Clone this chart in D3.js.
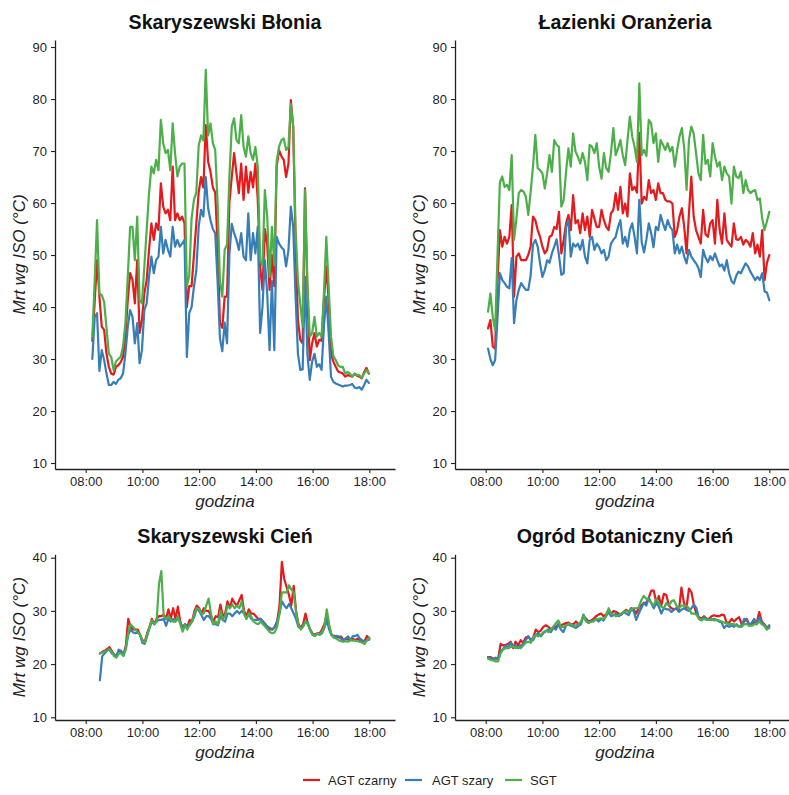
<!DOCTYPE html>
<html><head><meta charset="utf-8">
<script src="https://cdn.jsdelivr.net/npm/d3@7"></script>
<style>
body{margin:0;background:#fff}
svg{display:block;font-family:"Liberation Sans",Arial,Helvetica,sans-serif}
</style>
</head><body>
<svg id="chart" width="789" height="795"></svg>
<script>
// ---------- DATA ----------
const seriesNames = ["AGT czarny", "AGT szary", "SGT"];
const seriesColors = ["#E41A1C", "#377EB8", "#4DAF4A"];
const panelTitles = ["Skaryszewski Błonia", "Łazienki Oranżeria", "Skaryszewski Cień", "Ogród Botaniczny Cień"];
const xTickHours = [8, 10, 12, 14, 16, 18];
const xTickLabels = ["08:00", "10:00", "12:00", "14:00", "16:00", "18:00"];
const yTicksTop = [10, 20, 30, 40, 50, 60, 70, 80, 90];
const yTicksBottom = [10, 20, 30, 40];
const xTitle = "godzina";
const yTitle = "Mrt wg ISO (°C)";

// Skaryszewski Błonia (samples every 5 min, 08:14 - 17:59)
const blonieStart = "08:14", blonieEnd = "17:59";
const blonieCzarny = [33.5,41,49,42,36.2,35.6,31,28.5,27.2,27,28.5,28.8,29.4,30.4,34.3,41.3,46.5,45.2,40.7,49,35,37.5,42.6,45.2,51,56.1,52.9,56.1,54.8,63.8,59.3,58,58.7,56.7,67,56.7,58,56.7,57.4,56.1,40,44,44,50,56,62,65,63,75,68,66,63,62,52,37,36,42,42,60,65,69.6,65.7,61.9,67.6,60.6,67,62,66,63,67.6,60.6,47.8,43.3,55,52,43.3,50,44,67,70.2,69,68.3,65,67.6,79.8,74.7,52,37.5,33.7,33,62.8,42.6,29.8,33,35,32.4,33.7,33.5,41.3,47.8,41.3,31,29.5,28.5,27.6,27.4,27.2,26.6,26.9,26.8,26.6,27.2,26.8,26.6,26.3,27.5,28.3,27.2];
const blonieSzary = [30,38,38.8,27.7,31.7,29.8,27.2,25,25,25.6,25.2,26,26.3,27.2,31.1,36.2,39.4,38.1,33,36.9,29.2,31.7,39.4,40.7,45.8,49.7,46.5,49,49.7,55.4,50.3,52.9,51,49.7,55.4,51.6,52.9,51.6,52.2,52.9,30.4,38.8,40,43.9,47,55.4,58.7,57.4,65,59,56.7,55,54.2,45,34,31.5,37,33,50,56,54.2,52.9,51,54.2,49.7,49,58,49,54.2,50.3,55.4,35,40,49,42.6,31.7,45,31.7,53.5,52.2,51.5,51,47.8,51,59.3,55.4,42,31,27.9,28,45.8,31,26,29.5,31,28.5,29,27.9,36.2,42,35,26.6,25.6,25.3,25.1,24.9,24.7,24.9,24.9,25,25.2,24.5,24.4,24.6,24.1,25,26,25.4];
const blonieSGT = [34.3,45,56.7,42.6,42.3,41,36,31,30.4,27.9,29.5,30,30.4,32.4,36.9,45.8,55.4,55.4,49,57.4,41.3,40.7,47.7,54.8,61.9,67,65.7,68.3,66.3,76,71.5,69.6,70.2,66.3,75.3,69.6,65.1,67,67.6,67.6,44,46,57,60.6,62,71,73,72,85.6,73,75.3,71.5,70.2,60,45,42,51,52,65,74.7,76.3,72.1,71.5,76.9,70.8,68.9,72.8,69.6,68.3,70.8,67,49,48,62.5,57.4,45.8,55.4,48,68,70.8,72.1,72.4,70.2,70.8,79,74.7,55,45,40.6,36.2,62.5,45,34.3,35,38.1,34.3,35,34.3,42.6,53.5,44,34.3,30.5,29.8,28.8,28.5,28.5,27.2,27.5,27.2,26.6,27.2,26.9,26.9,26.3,27.2,27.9,27.2];

// Łazienki Oranżeria (08:05 - 18:00)
const lazienkiStart = "08:05", lazienkiEnd = "18:00";
const lazienkiCzarny = [35.9,37.5,32.4,32,45,54.8,51.6,53.5,52.2,53.5,59.6,42,49.7,50.3,49,49,49,50,51.6,57.4,56.7,54.8,53.5,51.6,50.3,51,53.5,53.8,55.4,55,58.3,50.3,52.9,56.1,57.7,54.8,61.5,56.1,56.7,54.2,58,54.8,57.4,53.5,58.7,57,55.4,55.4,58.7,56.7,55.4,54.8,58,58.7,61.9,58.7,63.1,58,59.9,57.4,65.7,62.5,63.1,62,73.5,59.9,61.2,60.6,64.4,61.9,62.5,60.6,63.8,61.9,61.9,60.6,60.3,60.3,59.9,53.5,54.8,57.4,59,55.4,50.3,58,65.1,57.4,54.8,53.5,52.2,58.7,54,53.5,56.1,56.7,52.2,60.6,54.8,52.2,58,52.9,52.2,51.6,56.1,53,52.9,53.5,52,52.9,52.5,51.6,54.2,50.3,52,49.7,54.8,45.2,48.5,50];
const lazienkiSzary = [32,30,28.8,29.8,38,46.5,45.2,44.6,43.9,43.6,49.4,36.9,41.3,43.3,44.6,43.9,43.3,43.3,46,52,52.9,51.6,48.4,45.8,47.1,49,48.5,50.3,51.6,53,50,46.2,46.5,55.4,56.7,49.7,52.2,51.6,52.2,51,52.9,49.7,48.4,52.9,53.5,51,52.2,51.5,50.3,51,49,49.7,52.2,52.9,53.5,55.4,56.7,52.2,53.5,51.6,54.8,56.1,53.5,50.3,60.6,52.5,50.5,53,56.1,54.2,51.5,55.4,54.8,57.7,56.1,54.8,56.7,55.4,54.8,50.3,52,50.3,51.6,49.7,48.4,51,49.7,49,48.4,47.5,45.8,51,49.5,48.6,49.8,49,50.3,49,47.8,48.2,47,49,46.5,45,44.5,46,46.8,46.5,47.5,48.4,47.8,46.8,46,45.2,45.8,45.2,46.5,43,42.8,41.3];
const lazienkiSGT = [39.1,42.6,38,35.6,50,64,65.1,63.1,63.5,62.5,69.2,52.9,57,61.9,62.5,62.2,61.2,57.7,62,67,73.1,66.7,66.3,65.7,62.8,65.7,69.2,66,72.1,71.2,70.8,59.3,60.6,66,70.5,67,73.4,69.9,68.9,67.6,69.6,67.9,64.4,71.2,70.8,69.6,71.5,67,64.7,69.6,66.7,66,69.6,74.4,69.2,70.5,72.1,69.2,67.3,72.1,76.6,72.8,70.8,67.9,83,69.2,70.2,69,76,75.3,71.5,73.4,67.9,72.1,71.2,70.2,71.5,69.9,70.8,67,70.2,72.8,74.4,70.5,62.5,72.1,74.7,73.4,69.6,65.7,64.4,73.1,67.5,68.3,65.1,71.5,69,67,67.9,64.4,67,65.7,65.1,59.9,67,65.1,64.8,66,61.9,64.4,62.5,61.9,62.3,62.5,60.6,60.9,57,54.8,56.5,58.3];

// Skaryszewski Cień (08:30 - 18:00)
const cienStart = "08:30", cienEnd = "18:00";
const cienCzarny = [22,22.3,22.5,22.8,23.2,22.5,21.8,21.5,22.5,22.3,21.8,23.5,28.5,27,26.5,26.5,26.5,25.5,24.5,24.2,25.8,27,28.5,27.5,28.5,29,29,29.3,28.5,30.3,28.5,30.5,28.5,30.8,28,26.8,27.5,27,28.3,28,30,31,30.5,29.5,30.5,30,30,29,28,29,28.8,31.2,29,29.5,31.8,30.5,32.3,31.5,31,32,33,30,29,30.3,29.5,29.5,29,28.5,28.5,28,27.5,27,26.5,26.5,27,28,31,39.2,36,34.5,33,31,34.7,30,27.5,26.8,27.5,29.5,27.5,26.5,25.7,25.5,25.8,25.8,26.5,27.5,29.5,27,25.5,25.3,25.2,25,25.2,24.5,24.8,24.6,24.5,24.8,24.5,24.8,24.5,24.3,24.3,25.3,24.8];
const cienSzary = [17,21.5,22,22.5,22.8,22,21.8,21.5,22.7,22.5,21.8,23,25.5,26.5,26,25.8,26,25.5,24,23.8,25.3,26.8,28,27.5,28,28.3,28.3,28.5,27.2,28.5,28,28.5,28,28.5,28,26.5,27.5,27,27.3,28,29,30.5,30,29.2,28.3,29,29,28.5,27.5,27.5,27.3,29,28.3,28,29.5,29.5,29,29.5,30,29.5,30,29.5,28.5,29.5,28.5,28.3,28.3,28.3,28.5,28,27.5,27,26.8,26.5,27,28,29.5,31.8,31,30.5,31.3,30.5,29.5,28.5,27,26.7,27.2,28,27.8,26.3,25.5,25.3,25.7,25.5,25.8,26.8,28.3,26.5,25.5,25,25.3,25.2,24.8,24.3,24.8,25.2,24.5,25.2,25.3,25.5,24.8,24.5,24.3,24.5,24.6];
const cienSGT = [22,22.2,22.3,22.5,22.8,22.3,21.5,21.2,22,22,21.5,22.8,26,27.5,27,26.5,26,25.5,24.3,24,25.5,27,28.2,27.5,28,35,37.5,29,28.5,29,28.3,28,28,29,27.5,26.1,27.3,26.5,27.5,28,29.5,30.5,30.3,29.5,29.5,31,32.3,29.5,27.5,28,27.5,30,28.5,29,31,30.5,31.2,30.5,31,30.5,31.8,29.5,28.5,29.5,29,28,27.7,27.5,28,27.5,27,26.5,26,25.8,26,27,29.5,33.5,33.5,33.5,34.8,34,33.5,30,27.3,26.5,27,28,27.5,26.5,25.5,25.3,25.7,25.6,26,27,30.3,27.5,25.5,25,24.8,24.5,24.3,24.2,24.3,24.2,24.5,24.4,24.4,24.3,24.2,24,23.8,24.5,25];

// Ogród Botaniczny Cień (08:05 - 18:00)
const ogrodStart = "08:05", ogrodEnd = "18:00";
const ogrodCzarny = [21.3,21.3,21,21,21,23.8,23.5,23.6,23.8,24.2,23,24.2,23.5,24.5,24,25,25.2,24.5,25,26.5,26,26.3,27,27.3,27,26.5,27,27,27.5,27.3,27.5,27.7,27.8,27.5,27.5,28,27.5,27.8,29,28.5,28,28.2,28.5,29,29.3,29.5,29,29.3,30.2,29.5,30,29.8,29.5,29.3,29.8,30.2,29.8,30.5,30.3,29.5,30.5,31,31.5,31.5,32.5,33.8,33.8,31.5,32.8,31,33.2,33,31,30.5,30.3,30.5,30,34.4,31.5,30.5,34.2,33.5,31,29.5,28.8,28.5,29,28.5,28.5,29,29.2,29,29,29.3,29.2,27.8,27.8,28.5,28,28.5,28.8,27.5,28,28.5,27.5,27.5,28,27.8,29.8,28,27.5,26.8,27];
const ogrodSzary = [21.3,21,21,21.2,21,22.5,22.8,23.5,23,24,23.5,23.5,23,23.5,23.8,24.5,25.2,24.5,24.5,25.5,25.8,25.2,25.8,26.2,26.5,26,26.8,26.5,27.5,26.5,26,27.2,27.5,27.2,27,26.8,27.2,27.5,29.3,28.3,27.7,28,28.2,28.5,28,28.5,28.2,29,29.8,29,29.2,29.5,29,29.3,29.8,29.5,29.2,30.2,30,28.3,29.5,30.5,31.5,31,32.5,31.5,30.5,31.5,30.8,29.5,30.5,30.3,30.3,29.8,30.2,30.5,29.8,30.2,30.5,30.2,30,30.5,31.2,30.5,28.5,28.2,28.8,28.5,28.3,28.3,28.5,28.3,28,27.8,26.8,27.3,27,27.3,27,27.5,27,27.3,28.5,28.3,27.2,27.8,28.5,27.5,28.8,27.8,27.3,26.8,27.3];
const ogrodSGT = [21,20.8,20.7,20.5,20.5,22,22.8,23,23,23.2,23.3,23,23.2,23,23.5,24,24.2,24,25,25.5,25.2,25.5,26,26.3,26,26.5,27,27.7,28.2,27,27,27.3,27.5,27.5,27.2,27.3,27.5,28,29.2,28,27.8,28,28,28.5,28.5,28.6,28.5,29,30.5,29.5,29.3,29,29.2,29.5,29.8,30,29.8,30.3,30.5,30.5,30.6,32,32.8,32.3,32,31.5,31,32.3,31.5,30.8,30.5,31.5,31,31.8,32,31,30.5,31,31,31,30.5,29.5,29.5,29.3,28.5,28.3,28.5,28.3,28.3,28.5,28.2,28.3,28.2,28,27.8,27.7,27.5,27.5,27.5,27.2,27,27,27.5,27.5,27.3,27.2,27.5,27.5,28,27.5,27.2,26.5,26.8];

// ---------- LAYOUT ----------
const W = 789, H = 795;
const font = '"Liberation Sans",Arial,Helvetica,sans-serif';
const textColor = "#1f1f1f";
const axisColor = "#222";
const xDomainH = [6.9175, 18.906];
const topY = {top: 40, bottom: 469, domain: [8.85, 91.35], titleY: 28.5, xTitleY: 507};
const botY = {top: 554.3, bottom: 720, domain: [9.49, 40.64], titleY: 542.7, xTitleY: 758};

const parseHM = s => { const [h, m] = s.split(":").map(Number); return h + m / 60; };

const panels = [
  {title: panelTitles[0], start: blonieStart, end: blonieEnd, series: [blonieCzarny, blonieSzary, blonieSGT], left: 55, right: 395, v: topY, yTicks: yTicksTop, yTitleX: 25},
  {title: panelTitles[1], start: lazienkiStart, end: lazienkiEnd, series: [lazienkiCzarny, lazienkiSzary, lazienkiSGT], left: 455, right: 795, v: topY, yTicks: yTicksTop, yTitleX: 425},
  {title: panelTitles[2], start: cienStart, end: cienEnd, series: [cienCzarny, cienSzary, cienSGT], left: 55, right: 395, v: botY, yTicks: yTicksBottom, yTitleX: 25},
  {title: panelTitles[3], start: ogrodStart, end: ogrodEnd, series: [ogrodCzarny, ogrodSzary, ogrodSGT], left: 455, right: 795, v: botY, yTicks: yTicksBottom, yTitleX: 425}
];

const svg = d3.select("#chart");
svg.append("rect").attr("width", W).attr("height", H).attr("fill", "#fff");

panels.forEach(p => {
  const g = svg.append("g");
  const x = d3.scaleLinear().domain(xDomainH).range([p.left, p.right]);
  const y = d3.scaleLinear().domain(p.v.domain).range([p.v.bottom, p.v.top]);
  const t0 = parseHM(p.start), t1 = parseHM(p.end);

  // lines
  const line = d3.line().x(d => x(d[0])).y(d => y(d[1]));
  p.series.forEach((vals, si) => {
    const n = vals.length;
    const pts = vals.map((v, i) => [t0 + (t1 - t0) * i / (n - 1), v]);
    g.append("path").datum(pts)
      .attr("fill", "none").attr("stroke", seriesColors[si])
      .attr("stroke-width", 2.2).attr("stroke-linejoin", "round").attr("stroke-linecap", "round")
      .attr("d", line);
  });

  // axes
  const xa = g.append("g").attr("transform", `translate(0,${p.v.bottom})`)
    .call(d3.axisBottom(x).tickValues(xTickHours).tickFormat((d, i) => xTickLabels[i])
      .tickSize(4).tickSizeOuter(0).tickPadding(4));
  const ya = g.append("g").attr("transform", `translate(${p.left},0)`)
    .call(d3.axisLeft(y).tickValues(p.yTicks).tickFormat(d => String(d))
      .tickSize(4).tickSizeOuter(0).tickPadding(4));
  [xa, ya].forEach(a => {
    a.attr("color", axisColor);
    a.select(".domain").attr("stroke-width", 1.3);
    a.selectAll(".tick line").attr("stroke-width", 1.1);
    a.selectAll("text").attr("font-family", font).attr("font-size", 13).attr("fill", textColor);
  });

  // title
  g.append("text").attr("x", (p.left + p.right) / 2).attr("y", p.v.titleY)
    .attr("text-anchor", "middle").attr("font-family", font).attr("font-weight", "bold")
    .attr("font-size", 19.6).attr("fill", "#111").text(p.title);

  // x title
  g.append("text").attr("x", (p.left + p.right) / 2).attr("y", p.v.xTitleY)
    .attr("text-anchor", "middle").attr("font-family", font).attr("font-style", "italic")
    .attr("font-size", 17).attr("fill", textColor).text(xTitle);

  // y title
  const cy = (p.v.top + p.v.bottom) / 2;
  g.append("text").attr("transform", `translate(${p.yTitleX},${cy}) rotate(-90)`)
    .attr("text-anchor", "middle").attr("font-family", font).attr("font-style", "italic")
    .attr("font-size", 17).attr("fill", textColor).text(yTitle);
});

// legend
const legendItems = [
  {x: 303, tx: 328},
  {x: 405, tx: 432},
  {x: 505, tx: 530}
];
const lg = svg.append("g");
seriesNames.forEach((name, i) => {
  lg.append("line").attr("x1", legendItems[i].x).attr("x2", legendItems[i].x + 17)
    .attr("y1", 780).attr("y2", 780).attr("stroke", seriesColors[i]).attr("stroke-width", 2.2);
  lg.append("text").attr("x", legendItems[i].tx).attr("y", 784.6)
    .attr("font-family", font).attr("font-size", 13).attr("fill", textColor).text(name);
});
</script>
</body></html>
